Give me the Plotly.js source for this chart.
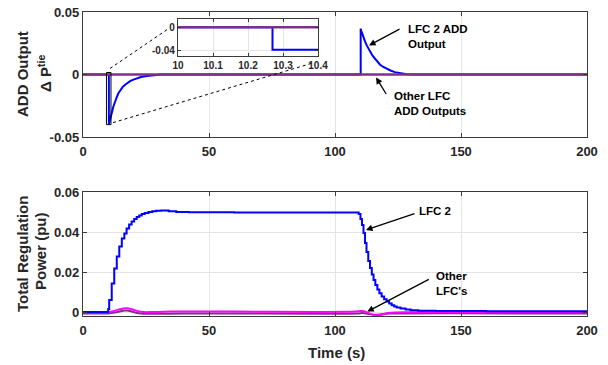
<!DOCTYPE html>
<html>
<head>
<meta charset="utf-8">
<script src="https://cdn.plot.ly/plotly-3.0.1.min.js"></script>
<style>html,body{margin:0;padding:0;background:#fff;}#chart{width:608px;height:365px;}</style>
</head>
<body>
<div id="chart"></div>
<script>
// ---------- data ----------
// Top panel: ADD output (Delta P tie)
const topLfc2T = [0, 10.27, 10.27, 10.3, 10.4, 11, 11.4, 12, 12.7, 13.4, 14, 14.7, 15.7, 16.7, 17.7, 18.7, 20, 21.3, 23, 25.3, 28, 31,
                  110.2, 110.2, 110.4, 110.7, 111.2, 111.9, 112.6, 113.3, 113.9, 114.9, 115.9, 116.9, 117.9, 119.2, 120.5, 122, 123.8, 126, 128.5, 132, 200];
const topLfc2 = [0, 0, -0.0395, -0.0393, -0.0378, -0.0345, -0.031, -0.026, -0.0215, -0.018, -0.0152, -0.0128, -0.0101, -0.0082, -0.0066, -0.0053, -0.0041, -0.003, -0.002, -0.0012, -0.0005, 0,
                 0, 0.0367, 0.0350, 0.0335, 0.0300, 0.0265, 0.0233, 0.0205, 0.0179, 0.0150, 0.0126, 0.0100, 0.0078, 0.0060, 0.0046, 0.0032, 0.0019, 0.0010, 0.0003, 0, 0];
const topOtherT = [0, 200];
const topOther = [0, 0];

// Bottom panel: total regulation power (pu)
const botLfc2T = [0, 10.0, 10.4, 11.4, 12.4, 13.4, 14.4, 15.4, 16.4, 17.3, 18.3, 19.3, 20.3, 21.3, 22.3, 23.3, 24.5, 26, 27.5, 29, 31, 34, 37, 42, 60,
                  109.4, 110.1, 110.7, 111.3, 111.9, 112.5, 113.2, 113.9, 114.6, 115.3, 116.0, 116.8, 117.6, 118.5, 119.5, 120.5, 121.5, 122.5, 123.5, 124.5, 126, 128, 130, 133, 140, 160, 200];
const botLfc2 = [0, 0.0015, 0.006, 0.0143, 0.0218, 0.0277, 0.0327, 0.0368, 0.0393, 0.0418, 0.0437, 0.0452, 0.0465, 0.0475, 0.0483, 0.0490, 0.0495, 0.0500, 0.0504, 0.0506, 0.0507, 0.0504, 0.0500, 0.0499, 0.0498,
                 0.0490, 0.0465, 0.0435, 0.0395, 0.0345, 0.0300, 0.0255, 0.0220, 0.0188, 0.0160, 0.0135, 0.0113, 0.0094, 0.0078, 0.0064, 0.0052, 0.0042, 0.0034, 0.0028, 0.0022, 0.0017, 0.0012, 0.0009, 0.0006, 0.0005, 0.0004, 0.0003];
const botPinkT = [0, 10, 12, 14, 16, 17.5, 19, 21, 23, 25, 28, 35, 60, 108, 110, 111.5, 113, 115, 117, 119, 121, 124, 130, 200];
const botPink = [0, 0, 0.0004, 0.0012, 0.0018, 0.0019, 0.0015, 0.0007, 0.0001, -0.0001, 0, 0.0002, 0.0002, 0.0002, 0.0005, 0.0004, -0.0004, -0.0013, -0.0017, -0.0012, -0.0005, -0.0002, -0.0001, -0.0001];
const botPurpleT = [0, 10, 13, 16, 17.5, 20, 23, 26, 40, 109, 111, 113, 116, 119, 122, 200];
const botPurple = [-0.0007, -0.0007, -0.0002, 0.0006, 0.0008, 0.0, -0.0008, -0.0009, -0.0007, -0.0007, -0.0005, -0.0009, -0.0014, -0.001, -0.0008, -0.0008];

// tick labels
const xTickVals = [0, 50, 100, 150, 200];
const xTickText = ['0', '50', '100', '150', '200'];
const topYTickVals = [-0.05, 0, 0.05];
const topYTickText = ['-0.05', '0', '0.05'];
const botYTickVals = [0, 0.02, 0.04, 0.06];
const botYTickText = ['0', '0.02', '0.04', '0.06'];
const insetXTickVals = [10, 10.1, 10.2, 10.3, 10.4];
const insetXTickText = ['10', '10.1', '10.2', '10.3', '10.4'];
const insetYTickVals = [-0.04, 0];
const insetYTickText = ['-0.04', '0'];

// ---------- styles ----------
const BLUE = '#0000FF', PURPLE = '#7E2F8E', PINK = '#FF00FF';
const FONT = 'Liberation Sans, Arial, sans-serif';
const W = 608, H = 365;
const px = v => v / W, py = v => 1 - v / H;

function axisBase(extra) {
  return Object.assign({
    showline: true, mirror: 'ticks', linecolor: '#3a3a3a', linewidth: 1.2,
    ticks: 'inside', ticklen: 4, tickcolor: '#3a3a3a', tickwidth: 1,
    showgrid: true, gridcolor: '#e4e4e4', gridwidth: 1, zeroline: false,
    tickmode: 'array', fixedrange: true,
    tickfont: {family: FONT, size: 13, color: '#262626', weight: 'bold'}
  }, extra);
}

const traces = [
  {x: topLfc2T, y: topLfc2, xaxis: 'x', yaxis: 'y', mode: 'lines', line: {color: BLUE, width: 2}, hoverinfo: 'skip'},
  {x: topOtherT, y: topOther, xaxis: 'x', yaxis: 'y', mode: 'lines', line: {color: PURPLE, width: 2.5}, hoverinfo: 'skip'},
  {x: botPurpleT, y: botPurple, xaxis: 'x2', yaxis: 'y2', mode: 'lines', line: {color: PURPLE, width: 2, shape: 'spline'}, hoverinfo: 'skip'},
  {x: botPinkT, y: botPink, xaxis: 'x2', yaxis: 'y2', mode: 'lines', line: {color: PINK, width: 2, shape: 'spline'}, hoverinfo: 'skip'},
  {x: botLfc2T, y: botLfc2, xaxis: 'x2', yaxis: 'y2', mode: 'lines', line: {color: BLUE, width: 2, shape: 'hv'}, hoverinfo: 'skip'},
  {x: topLfc2T, y: topLfc2, xaxis: 'x3', yaxis: 'y3', mode: 'lines', line: {color: BLUE, width: 2}, hoverinfo: 'skip'},
  {x: topOtherT, y: topOther, xaxis: 'x3', yaxis: 'y3', mode: 'lines', line: {color: PURPLE, width: 2.5}, hoverinfo: 'skip'}
];

const annFont = {family: FONT, size: 11.5, color: '#000', weight: 'bold'};
const titleFont = {family: FONT, size: 15, color: '#262626', weight: 'bold'};
function title(x, y, text, angle) {
  return {xref: 'paper', yref: 'paper', x: px(x), y: py(y), xanchor: 'center', yanchor: 'middle',
          text: text, textangle: angle, showarrow: false, font: titleFont};
}

const layout = {
  width: W, height: H, autosize: false,
  margin: {l: 0, r: 0, t: 0, b: 0},
  paper_bgcolor: '#fff', plot_bgcolor: '#fff',
  showlegend: false,
  xaxis: axisBase({domain: [px(83), px(587)], anchor: 'y', range: [0, 200], tickvals: xTickVals, ticktext: xTickText, ticklabelstandoff: 2}),
  yaxis: axisBase({domain: [py(137), py(12)], anchor: 'x', range: [-0.05, 0.05], tickvals: topYTickVals, ticktext: topYTickText}),
  xaxis2: axisBase({domain: [px(83), px(587)], anchor: 'y2', range: [0, 200], tickvals: xTickVals, ticktext: xTickText, ticklabelstandoff: 2}),
  yaxis2: axisBase({domain: [py(316), py(192)], anchor: 'x2', range: [-0.002, 0.06], tickvals: botYTickVals, ticktext: botYTickText}),
  xaxis3: axisBase({domain: [px(178), px(318)], anchor: 'y3', range: [10, 10.4], tickvals: insetXTickVals, ticktext: insetXTickText,
                    ticklen: 3, tickfont: {family: FONT, size: 10, color: '#262626', weight: 'bold'}}),
  yaxis3: axisBase({domain: [py(56), py(19)], anchor: 'x3', range: [-0.0505, 0.0146], tickvals: insetYTickVals, ticktext: insetYTickText,
                    ticklen: 3, tickfont: {family: FONT, size: 10, color: '#262626', weight: 'bold'}}),
  shapes: [
    {type: 'rect', xref: 'x', yref: 'y', x0: 9.3, x1: 11.1, y0: -0.0401, y1: 0.0016, line: {color: '#000', width: 1}, layer: 'above'},
    {type: 'line', xref: 'x', yref: 'y', x0: 10.7, y0: 0.0048, x1: 34.1, y1: 0.0369, line: {color: '#000', width: 1, dash: 'dot'}, layer: 'above'},
    {type: 'line', xref: 'x', yref: 'y', x0: 11.9, y0: -0.0385, x1: 90.5, y1: 0.0088, line: {color: '#000', width: 1, dash: 'dot'}, layer: 'above'}
  ],
  annotations: [
    // axis titles
    title(22, 74, 'ADD Output', -90),
    title(44, 74, 'Δ P<sup>tie</sup>', -90),
    title(22, 254, 'Total Regulation', -90),
    title(41, 251, 'Power (pu)', -90),
    title(336, 352, 'Time (s)', 0),
    // labels
    {xref: 'x', yref: 'y', x: 128.2, y: 0.0425, xanchor: 'left', yanchor: 'top', align: 'left', text: 'LFC 2 ADD<br>Output', showarrow: false, font: annFont},
    {xref: 'x', yref: 'y', x: 122.6, y: -0.0105, xanchor: 'left', yanchor: 'top', align: 'left', text: 'Other LFC<br>ADD Outputs', showarrow: false, font: annFont},
    {xref: 'x2', yref: 'y2', x: 132.5, y: 0.0545, xanchor: 'left', yanchor: 'top', align: 'left', text: 'LFC 2', showarrow: false, font: annFont},
    {xref: 'x2', yref: 'y2', x: 139.3, y: 0.0218, xanchor: 'left', yanchor: 'top', align: 'left', text: 'Other<br>LFC\'s', showarrow: false, font: annFont},
    // arrows
    {xref: 'x', yref: 'y', x: 113.5, y: 0.0233, ax: 32, ay: -17, text: '', showarrow: true, arrowhead: 2, arrowsize: 1, arrowwidth: 1.3, arrowcolor: '#000'},
    {xref: 'x', yref: 'y', x: 116.3, y: -0.0024, ax: 11, ay: 18, text: '', showarrow: true, arrowhead: 2, arrowsize: 1, arrowwidth: 1.3, arrowcolor: '#000'},
    {xref: 'x2', yref: 'y2', x: 112.3, y: 0.041, ax: 50, ay: -17, text: '', showarrow: true, arrowhead: 2, arrowsize: 1, arrowwidth: 1.3, arrowcolor: '#000'},
    {xref: 'x2', yref: 'y2', x: 112.8, y: 0.0002, ax: 63, ay: -33, text: '', showarrow: true, arrowhead: 2, arrowsize: 1, arrowwidth: 1.3, arrowcolor: '#000'}
  ]
};

Plotly.newPlot('chart', traces, layout, {staticPlot: true, displayModeBar: false});
</script>
</body>
</html>
